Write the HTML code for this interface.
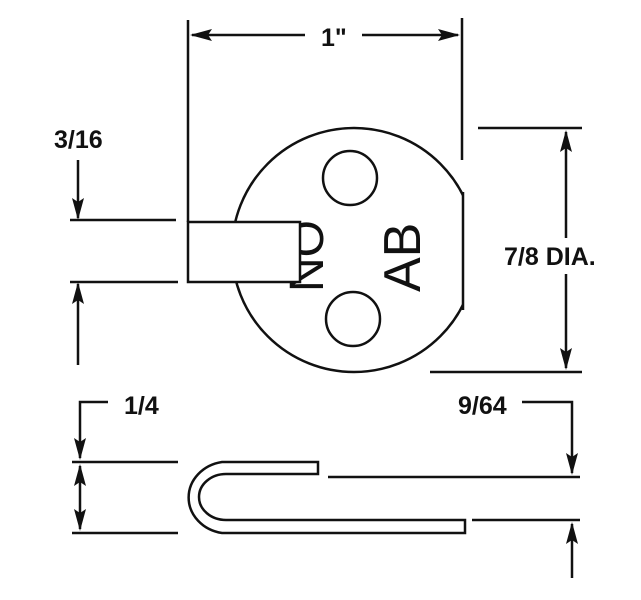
<!DOCTYPE html>
<html><head><meta charset="utf-8"><style>
html,body{margin:0;padding:0;background:#fff;}
svg{display:block}
text{font-family:"Liberation Sans",sans-serif;fill:#111}
.b{font-weight:bold;font-size:25px}
</style></head><body>
<svg width="641" height="600" viewBox="0 0 641 600" xmlns="http://www.w3.org/2000/svg">
<defs>
<clipPath id="cc"><rect x="0" y="0" width="463" height="600"/></clipPath>
</defs>
<g stroke="#111" stroke-width="2.5" fill="none">
<line x1="188" y1="20" x2="188" y2="222"/>
<line x1="462" y1="18" x2="462" y2="160"/>
<line x1="305" y1="35" x2="192" y2="35"/>
<line x1="362" y1="35" x2="458" y2="35"/>
<line x1="78" y1="160" x2="78" y2="218"/>
<line x1="70" y1="220" x2="176" y2="220"/>
<line x1="70" y1="282" x2="178" y2="282"/>
<line x1="78" y1="365" x2="78" y2="284"/>
<g clip-path="url(#cc)"><circle cx="354" cy="250" r="122"/></g>
<line x1="463" y1="192" x2="463" y2="310"/>
<circle cx="350" cy="178" r="27"/>
<circle cx="353" cy="319" r="27"/>
<line x1="478" y1="128" x2="582" y2="128"/>
<line x1="430" y1="372" x2="582" y2="372"/>
<line x1="566" y1="238" x2="566" y2="132"/>
<line x1="566" y1="274" x2="566" y2="368"/>
</g>
<text transform="translate(323,292) rotate(-90)" style="font-size:48px">NO</text>
<rect x="188" y="222" width="112" height="60" fill="#fff" stroke="#111" stroke-width="2.5"/>
<text transform="translate(420,292) rotate(-90)" style="font-size:52px">AB</text>
<text class="b" x="321" y="46">1"</text>
<text class="b" x="54" y="148">3/16</text>
<text class="b" x="504" y="265">7/8 DIA.</text>
<text class="b" x="124" y="414">1/4</text>
<text class="b" x="458" y="414">9/64</text>
<g stroke="#111" stroke-width="2.5" fill="none">
<polyline points="108,402 80,402 80,458"/>
<line x1="80" y1="466" x2="80" y2="529"/>
<line x1="72" y1="462" x2="178" y2="462"/>
<line x1="72" y1="533" x2="178" y2="533"/>
<path d="M318,462 L222,462 A40,36 0 0 0 222,533 L465,533 L465,520 L226,520 A27,23 0 0 1 226,474 L318,474 Z"/>
<polyline points="522,402 572,402 572,473"/>
<line x1="328" y1="477" x2="580" y2="477"/>
<line x1="472" y1="520" x2="580" y2="520"/>
<line x1="572" y1="578" x2="572" y2="524"/>
</g>
<g fill="#111">
<path d="M190,35 L212,29 L208,35 L212,41Z"/>
<path d="M460,35 L438,29 L442,35 L438,41Z"/>
<path d="M78,220 L72,198 L78,202 L84,198Z"/>
<path d="M78,282 L72,304 L78,300 L84,304Z"/>
<path d="M566,130 L560,152 L566,148 L572,152Z"/>
<path d="M566,370 L560,348 L566,352 L572,348Z"/>
<path d="M80,460 L74,438 L80,442 L86,438Z"/>
<path d="M80,464 L74,486 L80,482 L86,486Z"/>
<path d="M80,531 L74,509 L80,513 L86,509Z"/>
<path d="M572,475 L566,453 L572,457 L578,453Z"/>
<path d="M572,522 L566,544 L572,540 L578,544Z"/>
</g>
</svg>
</body></html>
